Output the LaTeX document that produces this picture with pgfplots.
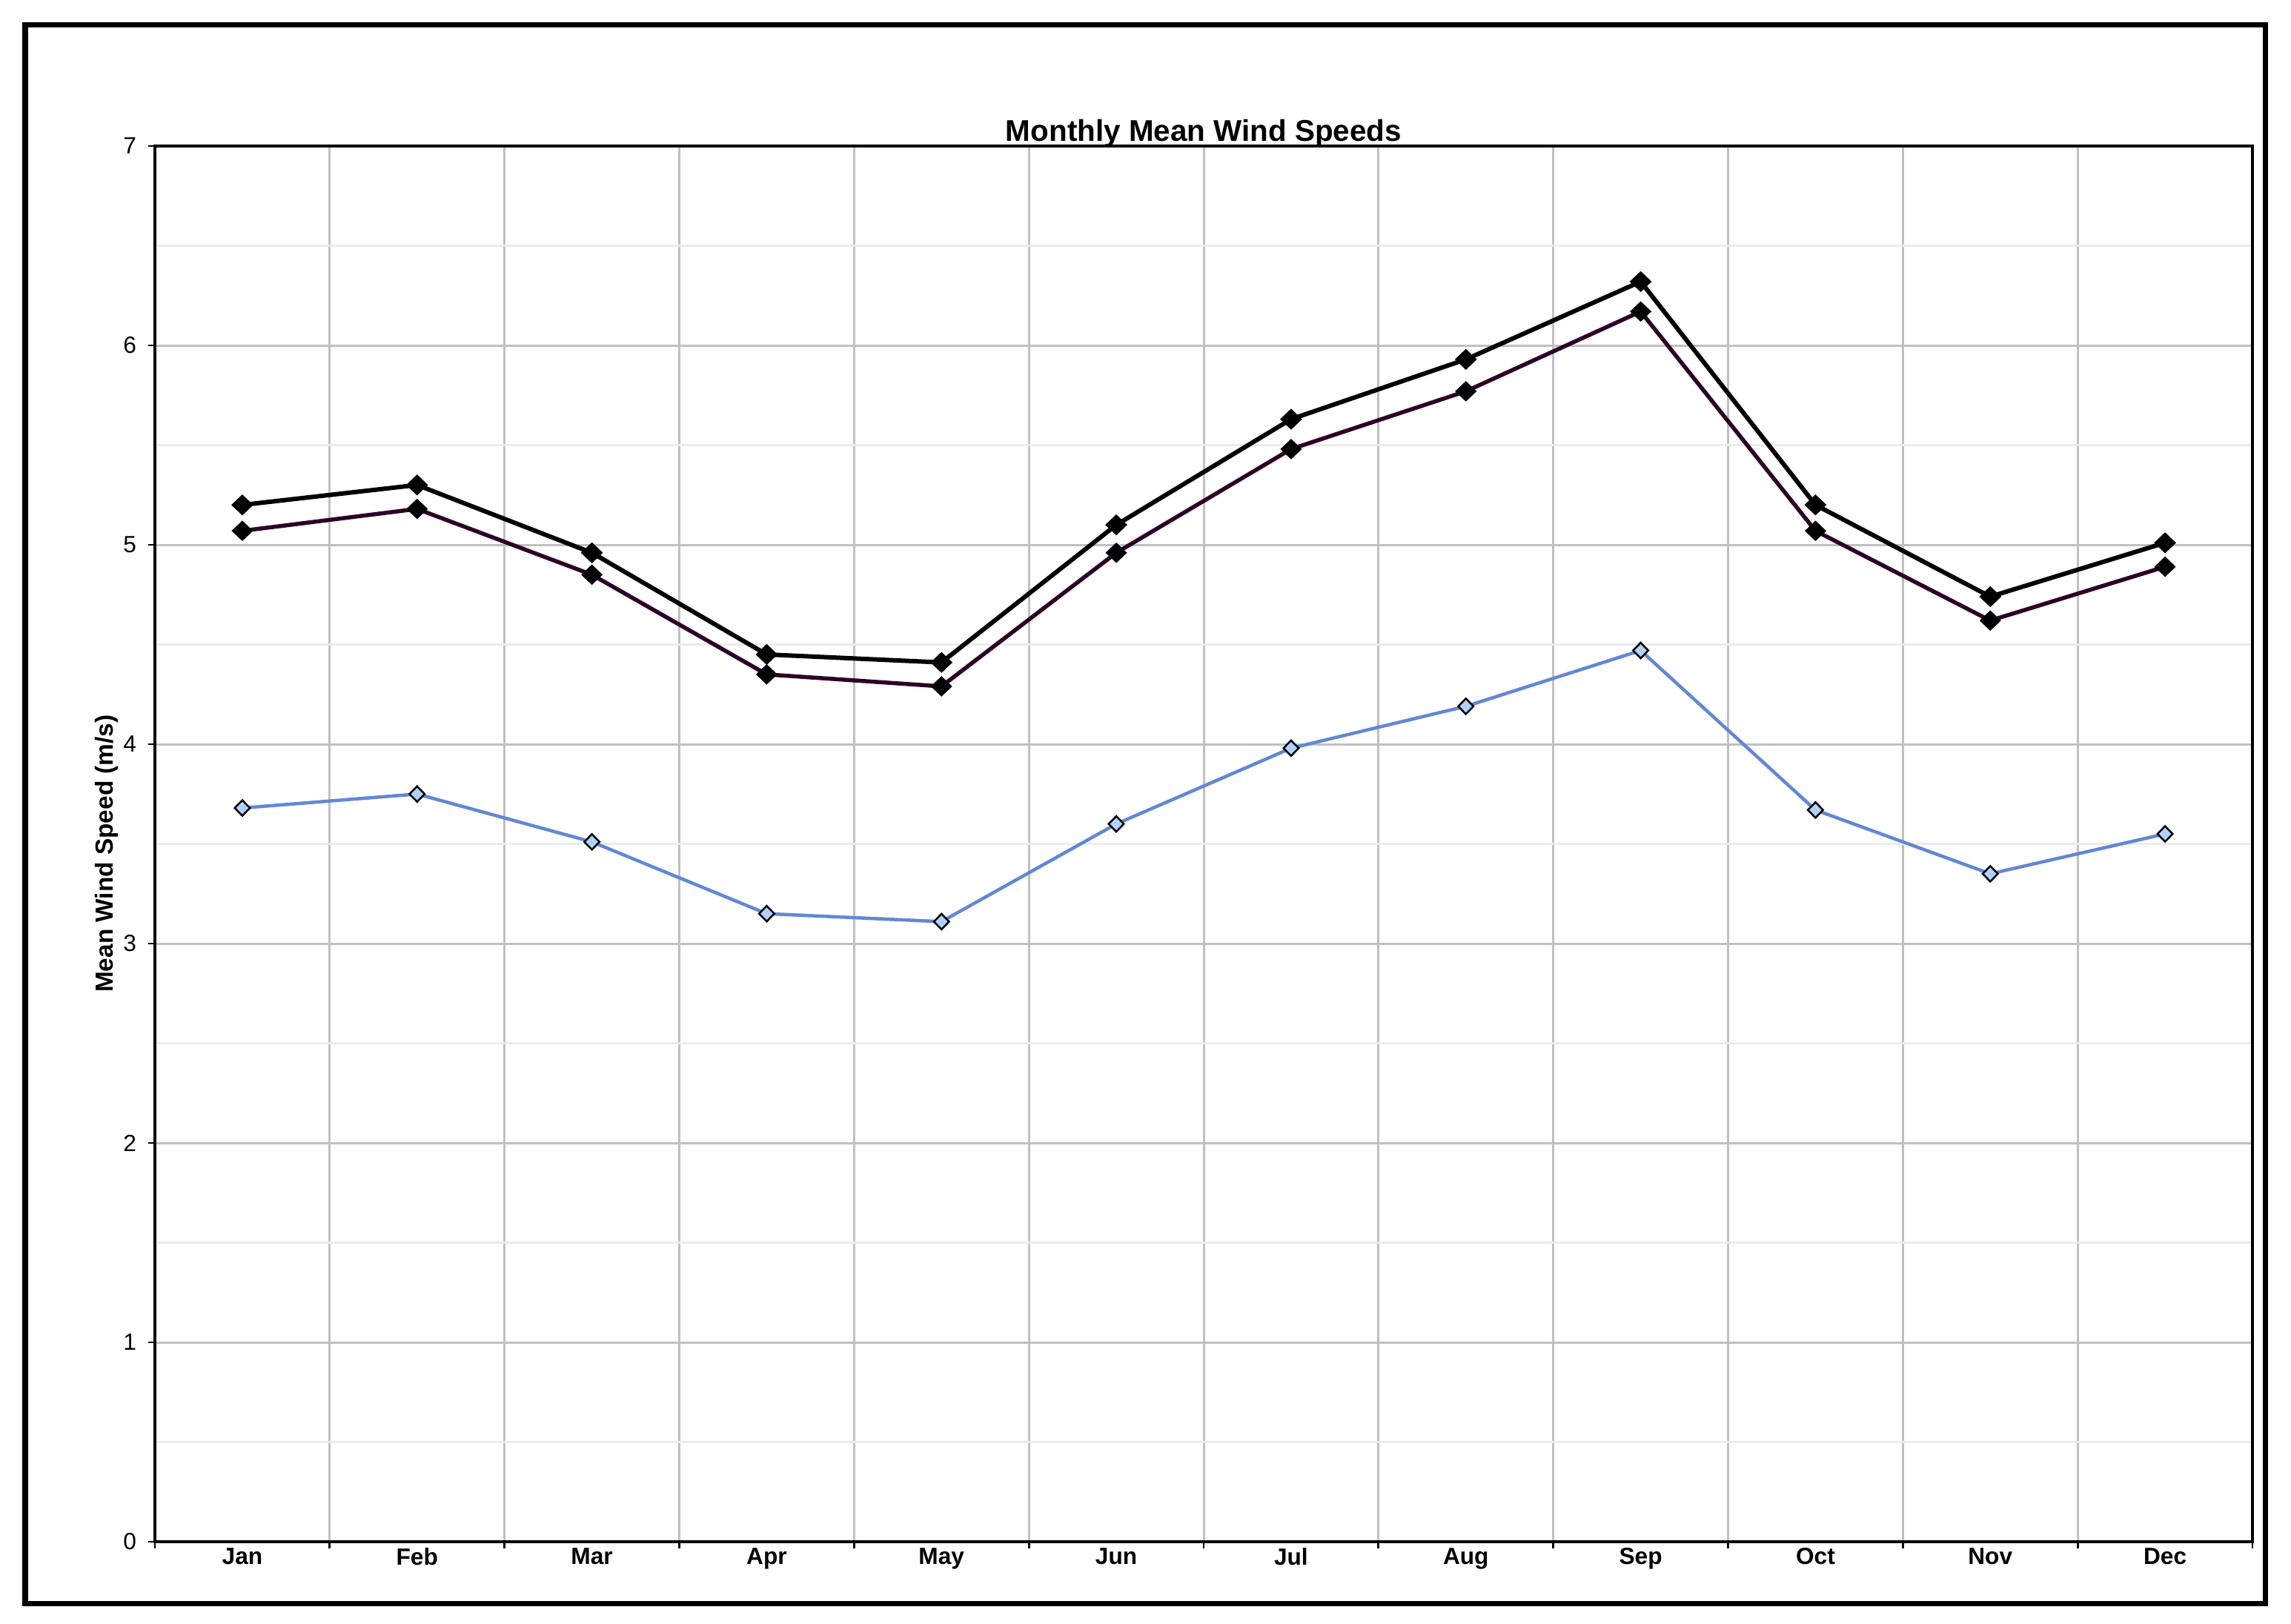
\documentclass[border=0pt]{standalone}
\usepackage{fontspec}
\setmainfont{Liberation Sans}
\usepackage{pgfplots}
\pgfplotsset{compat=1.18}
\definecolor{gridgray}{RGB}{192,192,192}
\definecolor{minorgray}{RGB}{236,236,236}
\definecolor{serblue}{RGB}{98,136,212}
\definecolor{markblue}{RGB}{175,210,250}
\definecolor{darkpurple}{RGB}{45,0,40}

\begin{document}
\begin{tikzpicture}
\path[use as bounding box] (0,0) rectangle (30.91cm,21.90cm);
\draw[line width=0.07cm] (0.34cm,0.27cm) rectangle (30.56cm,21.56cm);
\begin{axis}[
  at={(2.09cm,1.10cm)}, anchor=south west,
  scale only axis, width=28.30cm, height=18.83cm,
  xmin=-0.5, xmax=11.5, ymin=0, ymax=7,
  xtick={-0.5,0.5,...,11.5}, xticklabels={},
  extra x ticks={0,1,2,3,4,5,6,7,8,9,10,11},
  extra x tick labels={Jan,Feb,Mar,Apr,May,Jun,Jul,Aug,Sep,Oct,Nov,Dec},
  extra x tick style={major tick length=0pt, grid=none},
  ytick={0,1,2,3,4,5,6,7},
  minor y tick num=1,
  xmajorgrids, ymajorgrids, yminorgrids,
  major grid style={gridgray, line width=0.03cm},
  minor grid style={minorgray, line width=0.03cm},
  minor tick length=0pt,
  major tick length=0.09cm,
  tick align=outside,
  xtick pos=bottom, ytick pos=left,
  tick style={black, line width=0.8pt},
  axis line style={line width=0.045cm},
  /pgf/number format/assume math mode=true,
  xticklabel style={font=\bfseries\fontsize{9}{10}\selectfont, yshift=1pt},
  yticklabel style={font=\fontsize{9}{10}\selectfont, xshift=-1pt},
  ylabel={Mean Wind Speed (m/s)},
  ylabel style={font=\bfseries\fontsize{9.5}{11}\selectfont, at={(axis description cs:-0.023,0.493)}, anchor=center},
  title={Monthly Mean Wind Speeds},
  title style={font=\bfseries\fontsize{11.5}{12}\selectfont, at={(axis description cs:0.5,1)}, anchor=base, yshift=-4.2pt},
]
\addplot[serblue, line width=0.045cm, mark=diamond*, mark size=0.105cm,
  mark options={draw=black, fill=markblue, line width=0.025cm, xscale=1.3, solid}]
  coordinates {(0,3.68) (1,3.75) (2,3.51) (3,3.15) (4,3.11) (5,3.60) (6,3.98) (7,4.19) (8,4.47) (9,3.67) (10,3.35) (11,3.55)};
\addplot[darkpurple, line width=0.055cm, mark=diamond*, mark size=0.1cm,
  mark options={draw=black, fill=black, xscale=1.4, solid}]
  coordinates {(0,5.07) (1,5.18) (2,4.85) (3,4.35) (4,4.29) (5,4.96) (6,5.48) (7,5.77) (8,6.17) (9,5.07) (10,4.62) (11,4.89)};
\addplot[black, line width=0.06cm, mark=diamond*, mark size=0.1cm,
  mark options={draw=black, fill=black, xscale=1.4, solid}]
  coordinates {(0,5.20) (1,5.30) (2,4.96) (3,4.45) (4,4.41) (5,5.10) (6,5.63) (7,5.93) (8,6.32) (9,5.20) (10,4.74) (11,5.01)};
\end{axis}
\end{tikzpicture}
\end{document}
